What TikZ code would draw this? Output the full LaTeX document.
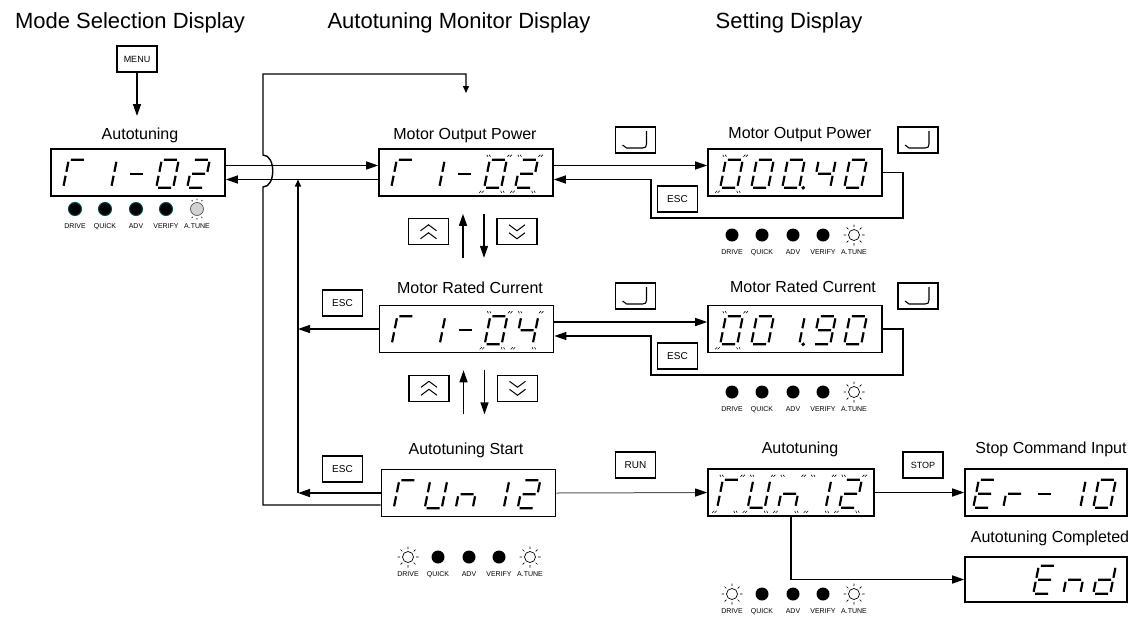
\documentclass[tikz,border=0pt]{standalone}
\usepackage{fontspec}
\setmainfont{Liberation Sans}
\usetikzlibrary{positioning, arrows.meta, calc}

% segments of one digit (frame 17 x 28, y up)
\tikzset{
  sg-a/.style={insert path={(2,28) -- (15,28)}},
  sg-b/.style={insert path={(17,26) -- (17,16)}},
  sg-c/.style={insert path={(17,12) -- (17,2)}},
  sg-d/.style={insert path={(2,0) -- (15,0)}},
  sg-e/.style={insert path={(0,2) -- (0,12)}},
  sg-f/.style={insert path={(0,16) -- (0,26)}},
  sg-g/.style={insert path={(2,14) -- (15,14)}},
  sg-p/.style={insert path={(21,0) circle (0.5)}},
  gl-0/.style={sg-a,sg-b,sg-c,sg-d,sg-e,sg-f},
  gl-0p/.style={gl-0,sg-p},
  gl-1/.style={sg-b,sg-c},
  gl-1p/.style={gl-1,sg-p},
  gl-2/.style={sg-a,sg-b,sg-g,sg-e,sg-d},
  gl-4/.style={sg-f,sg-g,sg-b,sg-c},
  gl-9/.style={sg-a,sg-b,sg-c,sg-d,sg-f,sg-g},
  gl-T/.style={sg-a,sg-e,sg-f},
  gl-U/.style={sg-b,sg-c,sg-d,sg-e,sg-f},
  gl-n/.style={sg-e,sg-g,sg-c},
  gl-E/.style={sg-a,sg-d,sg-e,sg-f,sg-g},
  gl-r/.style={sg-e,sg-g},
  gl-d/.style={sg-b,sg-c,sg-d,sg-e,sg-g},
  gl-minus/.style={sg-g},
  gl-sp/.style={},
  mk-0/.style={},
  mk-1/.style={insert path={(-4,33) -- (-2.5,31) (-1.5,33) -- (0,31)
      (17,31) -- (18.5,33) (19.5,31) -- (21,33)
      (-4,-5) -- (-2.5,-3) (-1.5,-5) -- (0,-3)
      (17,-3) -- (18.5,-5) (19.5,-3) -- (21,-5)}},
  segline/.style={line width=2.2pt},
  markline/.style={line width=.6pt},
  led-0/.style={circle, fill=black, minimum size=13pt, inner sep=0pt},
  led-1/.style={circle, draw, line width=.7pt, fill=white, minimum size=11pt, inner sep=0pt},
  led-2/.style={circle, draw=gray!70!black, line width=.7pt, fill=gray!35, minimum size=13pt, inner sep=0pt},
  led-3/.style={circle, fill=black, draw=teal!60!black, line width=1pt, minimum size=13pt, inner sep=0pt},
  ray-0/.style={}, ray-3/.style={},
  ray-1/.style={insert path={+(0:8) -- +(0:10.5) +(45:8) -- +(45:10.5) +(90:8) -- +(90:10.5)
      +(135:8) -- +(135:10.5) +(180:8) -- +(180:10.5) +(225:8) -- +(225:10.5)
      +(270:8) -- +(270:10.5) +(315:8) -- +(315:10.5)}},
  ray-2/.style={insert path={+(60:9) -- +(60:10.5) +(90:9) -- +(90:10.5) +(120:9) -- +(120:10.5)
      +(240:9) -- +(240:10.5) +(270:9) -- +(270:10.5) +(300:9) -- +(300:10.5)}},
  ledtxt/.style={font=\fontsize{7}{8}\selectfont, inner sep=0pt, anchor=base},
}

\newcommand\segdisp[4]{% node, margin, pitch, glyph/blink list
  \foreach \gl/\bl [count=\pos] in {#4}{
    \begin{scope}[shift={($(#1.south west)+({#2+#3*(\pos-1)},-9)$)}, x=1pt, y=1pt, xslant=.2]
      \draw[segline] [gl-\gl];
      \draw[markline] [mk-\bl];
    \end{scope}}}

\newcommand\ledrow[7]{% name, centre, five states
  \foreach \st/\lab/\dx [count=\pos] in {#3/DRIVE/-61,#4/QUICK/-31,#5/ADV/0,#6/VERIFY/30,#7/A.TUNE/61}{
    \node[led-\st] (#1-\pos) at ($#2+(\dx,0)$) {};
    \draw[line width=.7pt] (#1-\pos.center) [ray-\st];
    \node[ledtxt] (#1-t\pos) at ($#2+(\dx,19)$) {\lab};}}

\newcommand\entkey[2]{\node[btn] (#1) at #2 {};
  \draw[line width=1.1pt] ([shift={(11,-9)}]#1.center) -- ++(0,13)
    .. controls +(0,3) and +(3,0) .. ++(-4,4) -- ++(-16,0) -- ++(-4,-3);}
\newcommand\upkey[2]{\node[btn] (#1) at #2 {};
  \draw[line width=1pt] ([shift={(-8,-1)}]#1.center) -- ++(8,-6) -- ++(8,6) ([shift={(-8,7)}]#1.center) -- ++(8,-6) -- ++(8,6);}
\newcommand\dnkey[2]{\node[btn] (#1) at #2 {};
  \draw[line width=1pt] ([shift={(-8,-7)}]#1.center) -- ++(8,6) -- ++(8,-6) ([shift={(-8,1)}]#1.center) -- ++(8,6) -- ++(8,-6);}

\begin{document}
\begin{tikzpicture}[x=1pt, y=-1pt, >={Triangle[length=12pt,width=8pt]},
    disp/.style={draw, line width=1.6pt, minimum width=174pt, minimum height=47pt, inner sep=0pt},
    btn/.style={draw, line width=1.2pt, minimum width=40pt, minimum height=26pt, inner sep=0pt, font=\fontsize{10}{12}\selectfont},
    lbl/.style={font=\fontsize{16}{19}\selectfont, anchor=base, inner sep=0pt},
    ttl/.style={font=\fontsize{22}{26}\selectfont, anchor=base, inner sep=0pt},
    flow/.style={line width=1.4pt},
    small/.style={-{Triangle[length=7pt,width=6pt]}}]
  \useasboundingbox (0,0) rectangle (1142,621);

  \node[ttl] (t1) at (130,28) {Mode Selection Display};
  \node[ttl] (t2) at (459,28) {Autotuning Monitor Display};
  \node[ttl] (t3) at (789,28) {Setting Display};

  % displays
  \node[disp] (d1) at (138,172.5) {};
  \node[disp] (d2) at (466,172.5) {};
  \node[disp] (d3) at (795,172.5) {};
  \node[disp] (d4) at (466.5,329) {};
  \node[disp] (d5) at (795,329) {};
  \node[disp] (d6) at (468.5,493) {};
  \node[disp, minimum width=166pt] (d7) at (791,492.5) {};
  \node[disp, minimum width=162pt] (d8) at (1046,492.5) {};
  \node[disp, minimum width=162pt, minimum height=45pt] (d9) at (1046,579.5) {};

  \node[lbl] (l1) at (140,139) {Autotuning};
  \node[lbl] (l2) at (465,139) {Motor Output Power};
  \node[lbl] (l3) at (800,138) {Motor Output Power};
  \node[lbl] (l4) at (470,293) {Motor Rated Current};
  \node[lbl] (l5) at (803,292) {Motor Rated Current};
  \node[lbl] (l6) at (466,454) {Autotuning Start};
  \node[lbl] (l7) at (800,453) {Autotuning};
  \node[lbl] (l8) at (1051,453) {Stop Command Input};
  \node[lbl] (l9) at (1050,542) {Autotuning Completed};

  \segdisp{d1}{13}{31}{T/0,1/0,minus/0,0/0,2/0}
  \segdisp{d2}{13}{31}{T/0,1/0,minus/0,0/1,2/1}
  \segdisp{d3}{13}{31}{0/1,0/0,0p/0,4/0,0/0}
  \segdisp{d4}{13}{31}{T/0,1/0,minus/0,0/1,4/1}
  \segdisp{d5}{13}{31}{0/1,0/0,1p/0,9/0,0/0}
  \segdisp{d6}{13}{31}{T/0,U/0,n/0,1/0,2/0}
  \segdisp{d7}{10}{30.5}{T/1,U/1,n/1,1/1,2/1}
  \segdisp{d8}{9}{30}{E/0,r/0,minus/0,1/0,0/0}
  \segdisp{d9}{9}{30}{sp/0,sp/0,E/0,n/0,d/0}

  % lamps
  \ledrow{r1}{(136,209)}{3}{3}{3}{3}{2}
  \ledrow{r3}{(793,235)}{0}{0}{0}{0}{1}
  \ledrow{r5}{(793,392)}{0}{0}{0}{0}{1}
  \ledrow{r6}{(469,557)}{1}{0}{0}{0}{1}
  \ledrow{r7}{(793,594)}{1}{0}{0}{0}{1}

  % keys
  \node[btn, font=\fontsize{9}{11}\selectfont] (menu) at (137,59) {MENU};
  \entkey{ent1}{(635.5,140)}
  \entkey{ent2}{(918,140)}
  \entkey{ent3}{(635.5,296)}
  \entkey{ent4}{(918,296)}
  \node[btn] (esc1) at (677.5,199) {ESC};
  \node[btn] (esc2) at (677.5,356) {ESC};
  \node[btn] (esc3) at (342.5,303) {ESC};
  \node[btn] (esc4) at (342.5,469) {ESC};
  \node[btn] (run) at (635.5,465) {RUN};
  \node[btn, font=\fontsize{9}{11}\selectfont] (stop) at (923,465) {STOP};
  \foreach \n in {2,4}{
    \upkey{upk\n}{($(d\n.south)+(-37.5,35)$)}
    \dnkey{dnk\n}{($(d\n.south)+(51,35)$)}
    \coordinate (up\n) at ($(d\n.south)+(-3,61)$);
    \coordinate (dn\n) at ($(d\n.south)+(18,17)$);
    \draw[flow,->] (up\n) -- ++(0,-44);
    \draw[flow,->] (dn\n) -- ++(0,44);
  }

  % connectors
  \coordinate (menu-end) at (137,116);
  \coordinate (top) at (466,93);
  \coordinate (bus) at (298,0);
  \draw[flow,->] (menu) -- (menu-end);
  \draw[flow,->] ([yshift=7pt]d1.east) -- ([yshift=7pt]d2.west);
  \draw[flow,->] ([yshift=-7pt]d2.west) -- ([yshift=-7pt]d1.east);
  \draw[flow,small] ([yshift=-12pt]d6.west) -| (263,187)
      .. controls (276,187) and (276,155) .. (263,155) -- (263,74) -| (top);
  \draw[flow,->] (d4.west) -- (d4.west -| bus);
  \draw[flow,->] (d6.west) -- (d6.west -| bus);
  \draw[flow,small] (d6.west -| bus) -- ([yshift=-7pt]d1.east -| bus);

  \draw[flow,->] ([yshift=7pt]d2.east) -- ([yshift=7pt]d3.west);
  \draw[flow,->] (d3.east) -- ++(20,0) |- (651,218) -- (651,179.5) -- ([yshift=-7pt]d2.east);
  \draw[flow,->] ([yshift=7pt]d4.east) -- ([yshift=7pt]d5.west);
  \draw[flow,->] (d5.east) -- ++(20,0) |- (651,375) -- (651,336) -- ([yshift=-7pt]d4.east);

  \draw[line width=1pt, gray!70!black, -{Triangle[length=12pt,width=8pt,black]}] (d6.east) -- (d7.west);
  \draw[flow,->] (d7.east) -- (d8.west);
  \draw[flow,->] (d7.south) |- (d9.west);
\end{tikzpicture}
\end{document}
